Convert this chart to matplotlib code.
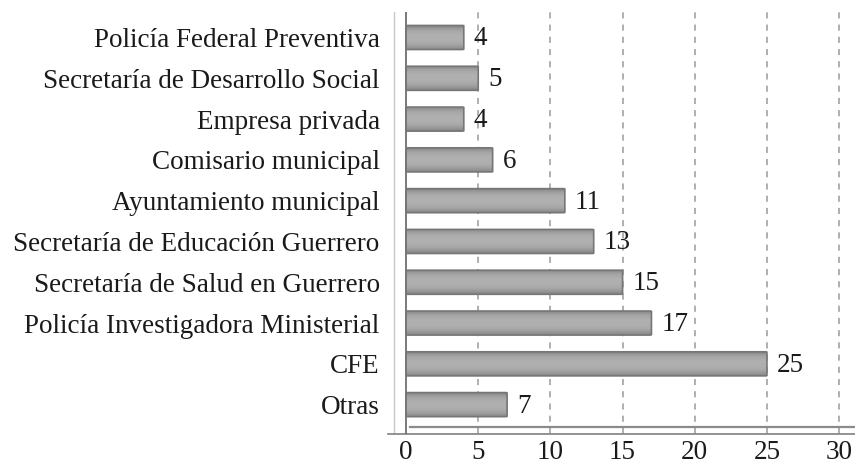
import numpy as np
import matplotlib
matplotlib.use("Agg")
import matplotlib.pyplot as plt
from matplotlib.patches import FancyBboxPatch

categorias = ["Policía Federal Preventiva", "Secretaría de Desarrollo Social",
              "Empresa privada", "Comisario municipal", "Ayuntamiento municipal",
              "Secretaría de Educación Guerrero", "Secretaría de Salud en Guerrero",
              "Policía Investigadora Ministerial", "CFE", "Otras"]
valores = [4, 5, 4, 6, 11, 13, 15, 17, 25, 7]
ticks_x = [0, 5, 10, 15, 20, 25, 30]

plt.rcParams['font.family'] = ['Liberation Serif', 'DejaVu Serif']

W, H = 855, 466
fig = plt.figure(figsize=(W / 100, H / 100), dpi=100)
ax = fig.add_axes([388 / W, 32 / H, (W - 388) / W, (434 - 12) / H])

ax.set_xlim(-1.25, 31.1)
ax.set_ylim(9.72, -0.625)

# rejilla punteada
for t in ticks_x[1:]:
    ax.axvline(t, color="#9a9a9a", lw=1.1, ls=(0, (4, 4)), zorder=1)

# lineas del marco
ax.axvline(-0.83, color="#c8c8c8", lw=1.0, zorder=2)
ax.axvline(0, color="#707070", lw=1.3, zorder=4)
ax.plot([0.28, 31.1], [9.55, 9.55], color="#8a8a8a", lw=1.6, zorder=2)

# gradiente vertical de las barras
grad = np.array([0.52, 0.62, 0.66, 0.68, 0.69, 0.69, 0.68, 0.66, 0.62, 0.54]).reshape(-1, 1)
alto = 0.59
for i, v in enumerate(valores):
    caja = FancyBboxPatch((0, i - alto / 2), v, alto,
                          boxstyle="round,pad=0,rounding_size=0.12",
                          mutation_aspect=0.08,
                          facecolor="none", edgecolor="#767676", lw=1.2, zorder=5)
    ax.add_patch(caja)
    img = ax.imshow(grad, cmap="gray", vmin=0, vmax=1, aspect="auto",
                    extent=(0, v, i + alto / 2, i - alto / 2), zorder=3,
                    interpolation="bicubic")
    img.set_clip_path(caja)
    ax.annotate(str(v), (v, i), xytext=(7, -1), textcoords="offset points",
                va="center", ha="left", fontsize=19.5, color="#1a1a1a", zorder=6)

ax.set_yticks(range(len(categorias)))
ax.set_yticklabels(categorias, fontsize=19.5, color="#1a1a1a")
ax.set_xticks(ticks_x)
ax.set_xticklabels([str(t) for t in ticks_x], fontsize=19.5, color="#1a1a1a")
ax.tick_params(axis="both", length=0)
ax.tick_params(axis="y", pad=6)
ax.tick_params(axis="x", pad=4)

for s in ["top", "right", "left"]:
    ax.spines[s].set_visible(False)
ax.spines["bottom"].set_color("#8a8a8a")
ax.spines["bottom"].set_linewidth(1.3)

fig.savefig("out.png", dpi=100)
